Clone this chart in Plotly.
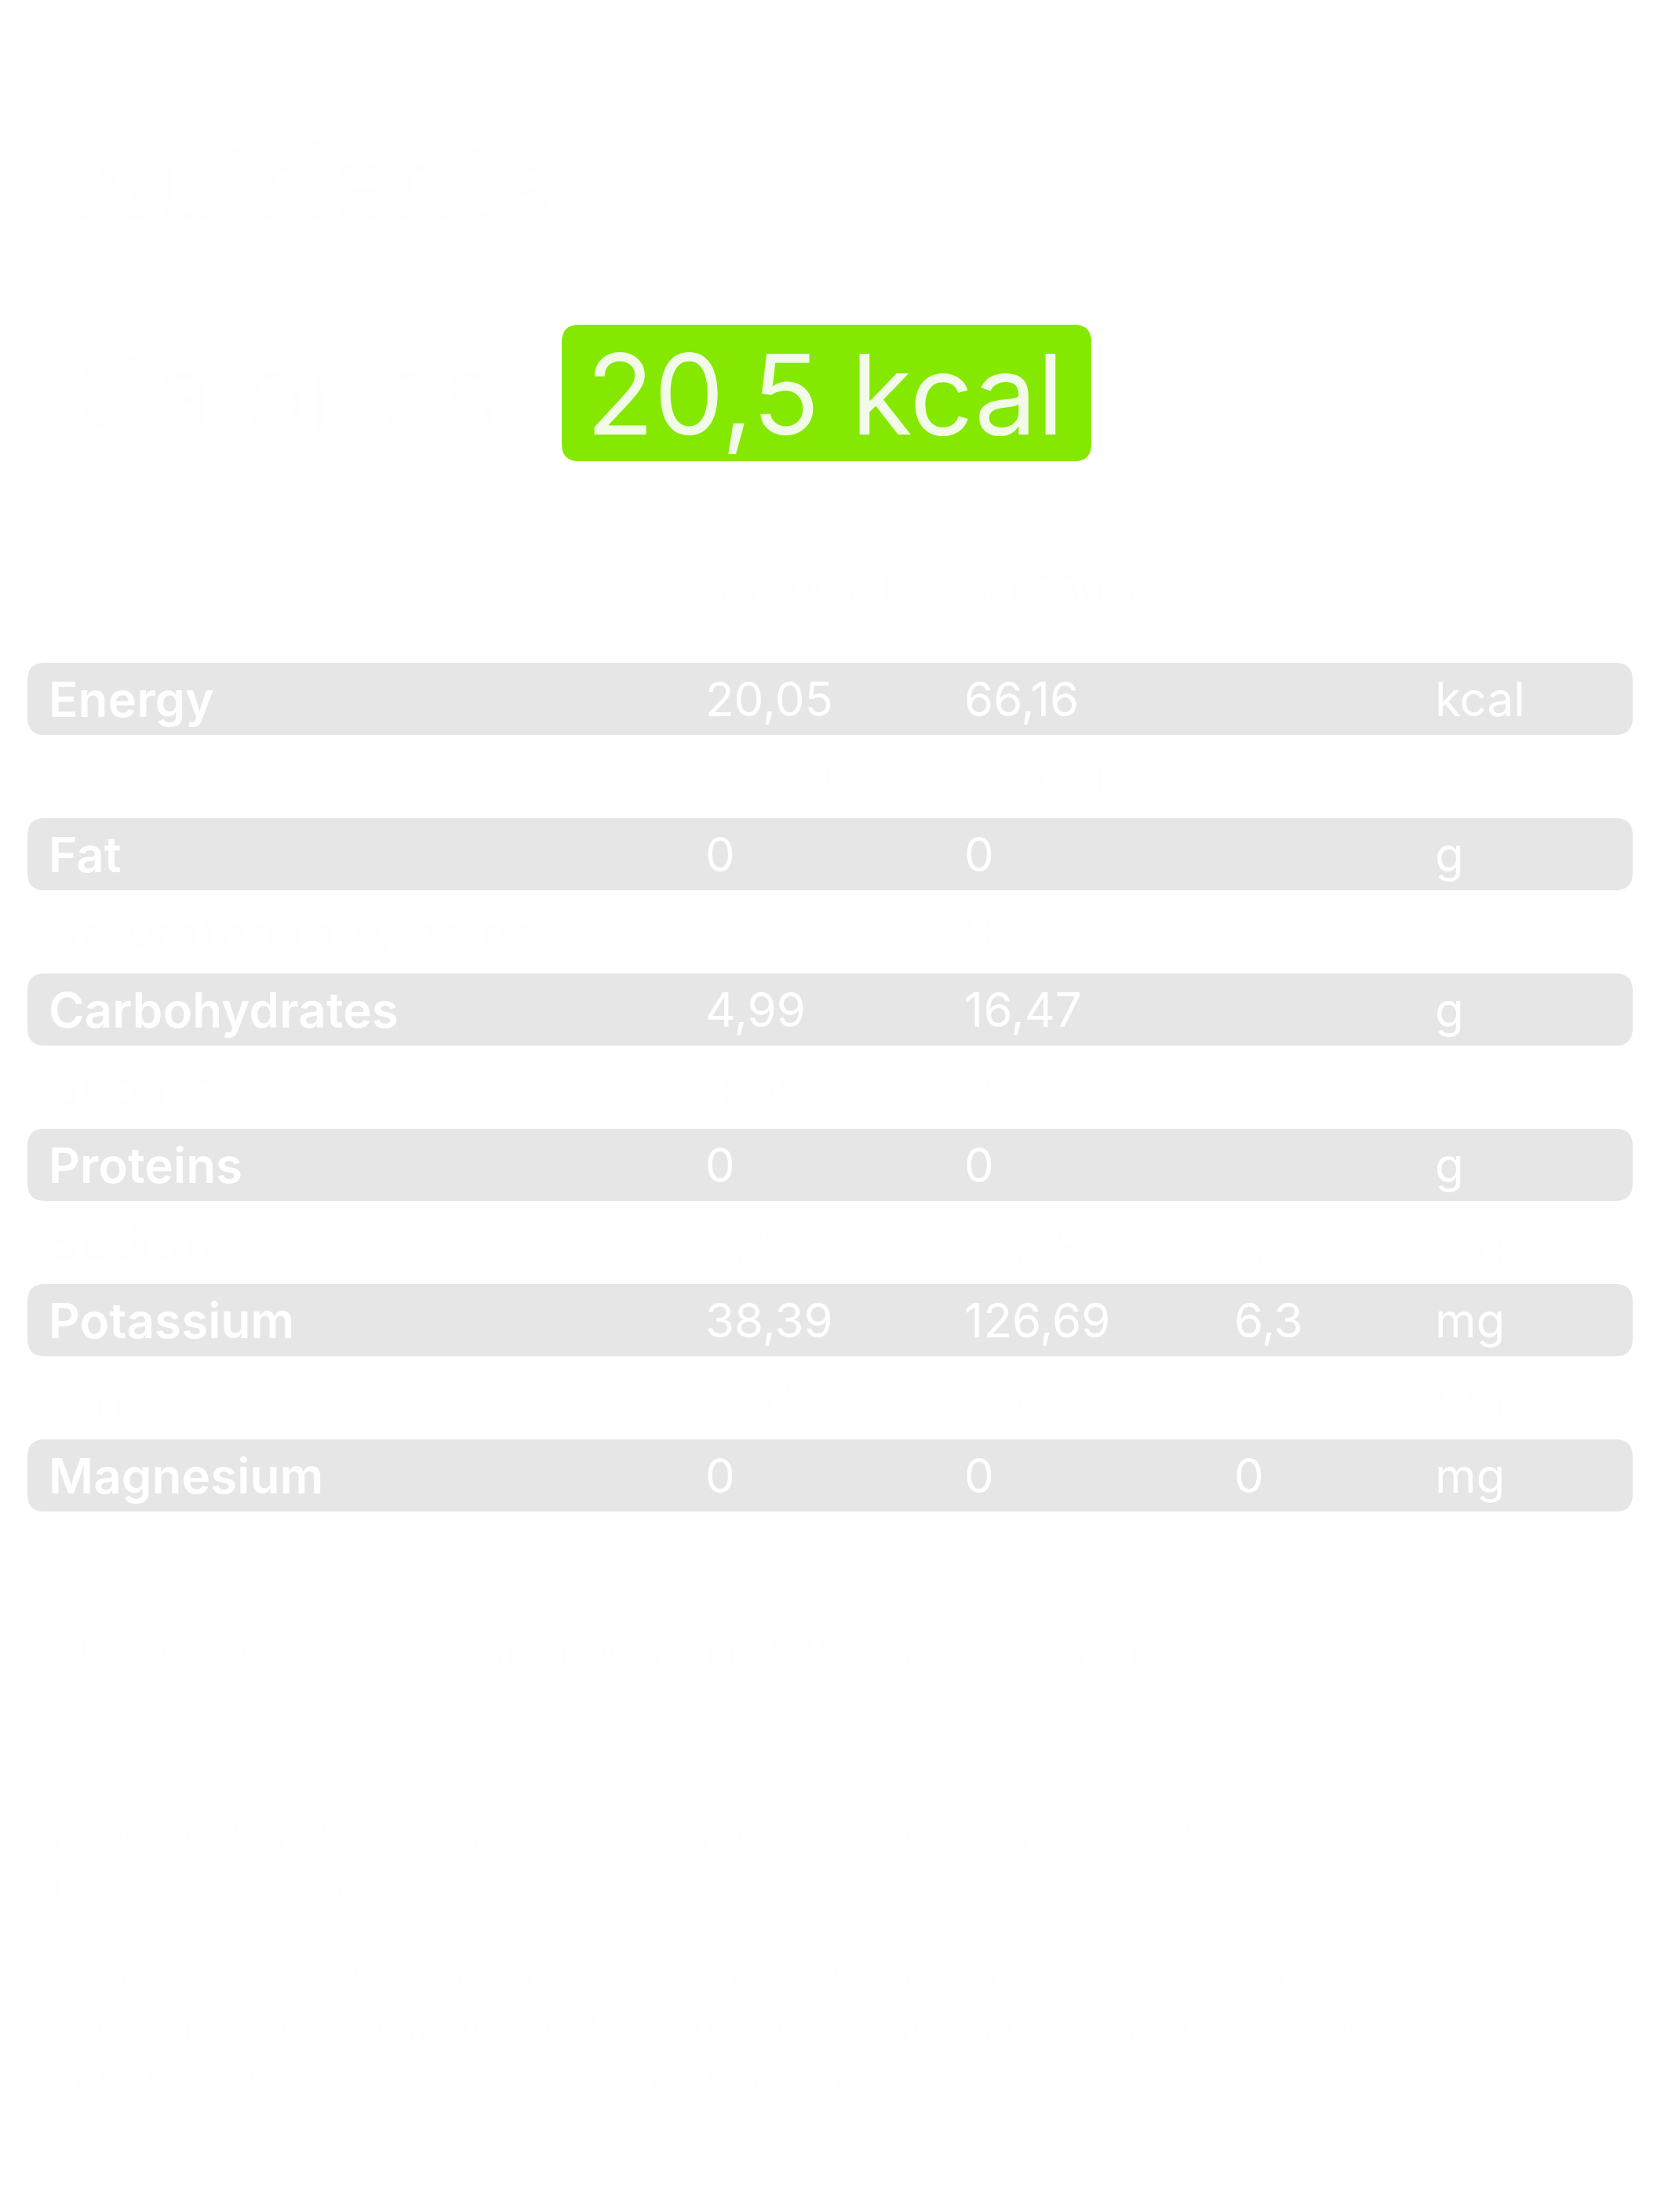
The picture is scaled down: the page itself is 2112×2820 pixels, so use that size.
import plotly.graph_objects as go

W, H = 2112, 2820

# ---- data ----
title = "Nutrients"
calorie_label = "Calories"
calorie_value = "20,5 kcal"
col_headers = ["per 100 ml", "per 330 ml", "% RI*"]
nutrients = ["Energy", "", "Fat", "Saturated fatty acids", "Carbohydrates", "Sugars",
             "Proteins", "Sodium", "Potassium", "Zinc", "Magnesium"]
per_100 = ["20,05", "83,89", "0", "0", "4,99", "4,99", "0", "8,45", "38,39", "0,51", "0"]
per_portion = ["66,16", "276,81", "0", "0", "16,47", "16,47", "0", "27,89", "126,69", "1,68", "0"]
pct_ri = ["", "", "", "", "", "", "", "1,2", "6,3", "17", "0"]
units = ["kcal", "kJ", "g", "g", "g", "g", "g", "mg", "mg", "mg", "mg"]
highlighted = [True, False, True, False, True, False, True, False, True, False, True]
footnote = "* RI – reference intake of an average adult (8400 kJ / 2000 kcal)"
desc_lines = ["LOW-CALORIE  COLA-FLAVORED  MINERAL  DRINK.  DOES  NOT  CONTAIN",
              "PRESERVATIVES, PASTEURIZED."]
ingr_lines = ["Ingredients: water, sugar, carbon dioxide, acidity regulator citric acid, natural",
              "lemon and flavoring agents, potassium, zinc, magnesium. Best before – see",
              "bottom of the can. Store at a temperature of +2 to +25°C"]

# ---- style / layout constants ----
FONT = "Inter"
OX, OY = -9, -9            # page offset compensation
ROW_TOP0, ROW_STEP, ROW_H = 846 + OY, 99, 92
ROW_X0, ROW_X1 = 36 + OX, 2082 + OX
COL_X = [c + OX for c in (61, 898, 1228, 1572, 1828)]
GREY = "#e6e6e6"
FAINT = "#fefefe"
GREEN = "#84e800"


def rounded(x0, y0, x1, y1, r):
    return (f"M{x0+r},{y0} L{x1-r},{y0} Q{x1},{y0} {x1},{y0+r} L{x1},{y1-r} "
            f"Q{x1},{y1} {x1-r},{y1} L{x0+r},{y1} Q{x0},{y1} {x0},{y1-r} "
            f"L{x0},{y0+r} Q{x0},{y0} {x0+r},{y0} Z")


fig = go.Figure()
shapes, ann = [], []


def text(x, y, s, size, color, weight=400, xanchor="left", family=FONT):
    ann.append(dict(x=x, y=y, xref="x", yref="y", text=s, showarrow=False,
                    xanchor=xanchor, yanchor="middle",
                    font=dict(family=family, size=size, color=color, weight=weight)))


# title & calories badge
text(88 + OX, 232 + OY, title, 140, FAINT, 500)
text(92 + OX, 500 + OY, calorie_label, 140, FAINT, 400)
shapes.append(dict(type="path", path=rounded(717 + OX, 415 + OY, 1392 + OX, 589 + OY, 22),
                   fillcolor=GREEN, line=dict(width=0), xref="x", yref="y", layer="below"))
text(1052 + OX, 503 + OY, calorie_value, 142, "#f2fbe8", 400, "center")

# column headers
for cx, h in zip(COL_X[1:4], col_headers):
    text(cx, 752 + OY, h, 48, FAINT, 400)

# table rows
for i, name in enumerate(nutrients):
    top = ROW_TOP0 + i * ROW_STEP
    cy = top + ROW_H / 2
    if highlighted[i]:
        shapes.append(dict(type="path", path=rounded(ROW_X0, top, ROW_X1, top + ROW_H, 22),
                           fillcolor=GREY, line=dict(width=0), xref="x", yref="y", layer="below"))
        color = "#ffffff"
    else:
        color = FAINT
    text(COL_X[0], cy, name, 62, color, 600)
    text(COL_X[1], cy, per_100[i], 60, color, 400)
    text(COL_X[2], cy, per_portion[i], 60, color, 400)
    if pct_ri[i]:
        text(COL_X[3], cy, pct_ri[i], 60, color, 400)
    text(COL_X[4], cy, units[i], 60, color, 400)

# footnote and description
text(66 + OX, 2108 + OY, footnote, 50, FAINT, 400, family="Roboto")
for j, line in enumerate(desc_lines):
    text(66 + OX, 2341 + OY + j * 65, line, 50, FAINT, 400, family="Roboto")
for j, line in enumerate(ingr_lines):
    text(66 + OX, 2521 + OY + j * 66, line, 50, FAINT, 400, family="Roboto")

fig.update_layout(
    width=W, height=H, margin=dict(l=0, r=0, t=0, b=0),
    paper_bgcolor="#ffffff", plot_bgcolor="#ffffff",
    xaxis=dict(range=[0, W], visible=False, fixedrange=True),
    yaxis=dict(range=[H, 0], visible=False, fixedrange=True),
    shapes=shapes, annotations=ann, showlegend=False,
)
fig.write_html("out.html")
